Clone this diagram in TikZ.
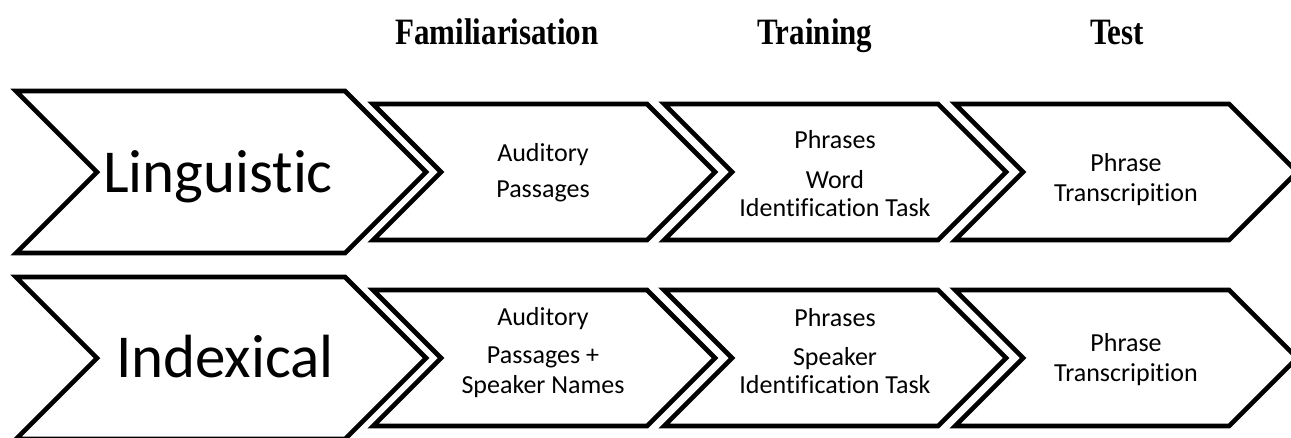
\documentclass[tikz,border=0pt]{standalone}
\usepackage{fontspec}
\setmainfont{Carlito}[Ligatures=NoCommon]
\newfontfamily\hdrfont{Liberation Serif}
\newcommand\chevshape[4]{%
  \draw[chev] (#1,#3) -- (#2,#3) -- ({#2+(#4-#3)/2},{(#3+#4)/2}) -- (#2,#4) -- (#1,#4) -- ({#1+(#4-#3)/2},{(#3+#4)/2}) -- cycle;}
\newcommand\tallhdr[1]{\scalebox{1}[1.2]{#1}}
\begin{document}
\begin{tikzpicture}[x=1pt,y=-1pt,
  chev/.style={draw=black, line width=4.6pt, line join=miter, fill=white},
  hdr/.style={font=\hdrfont\bfseries\fontsize{31}{36}\selectfont, anchor=base, inner sep=0pt},
  big/.style={font=\fontsize{61}{72}\selectfont, anchor=base, inner sep=0pt},
  lbl/.style={font=\fontsize{26}{30}\selectfont, anchor=base, inner sep=0pt}]
\useasboundingbox (0,0) rectangle (1291,437);
% row 1
\chevshape{16}{345}{91}{253}
\chevshape{373}{647}{104}{240}
\chevshape{664}{938}{104}{240}
\chevshape{955}{1229}{104}{240}
% row 2
\chevshape{16}{345}{277}{439}
\chevshape{373}{647}{290}{426}
\chevshape{664}{938}{290}{426}
\chevshape{955}{1229}{290}{426}
% headers
\node[hdr] (h1) at (497,44) {\tallhdr{Familiarisation}};
\node[hdr] (h2) at (815,44) {\tallhdr{Training}};
\node[hdr] (h3) at (1117,44) {\tallhdr{Test}};
% row 1 text
\node[big] (ling) at (218,192) {Linguistic};
\node[lbl] (a1) at (543,161) {Auditory};
\node[lbl] (a2) at (543,197) {Passages};
\node[lbl] (b1) at (835,148) {Phrases};
\node[lbl] (b2) at (835,188) {Word};
\node[lbl] (b3) at (835,216) {Identification Task};
\node[lbl] (c1) at (1126,171) {Phrase};
\node[lbl] (c2) at (1126,201) {Transcripition};
% row 2 text
\node[big] (idx) at (225,377) {Indexical};
\node[lbl] (d1) at (543,325) {Auditory};
\node[lbl] (d2) at (543,363) {Passages +};
\node[lbl] (d3) at (543,393) {Speaker Names};
\node[lbl] (e1) at (835,326) {Phrases};
\node[lbl] (e2) at (835,365) {Speaker};
\node[lbl] (e3) at (835,393) {Identification Task};
\node[lbl] (f1) at (1126,351) {Phrase};
\node[lbl] (f2) at (1126,381) {Transcripition};
\end{tikzpicture}
\end{document}
